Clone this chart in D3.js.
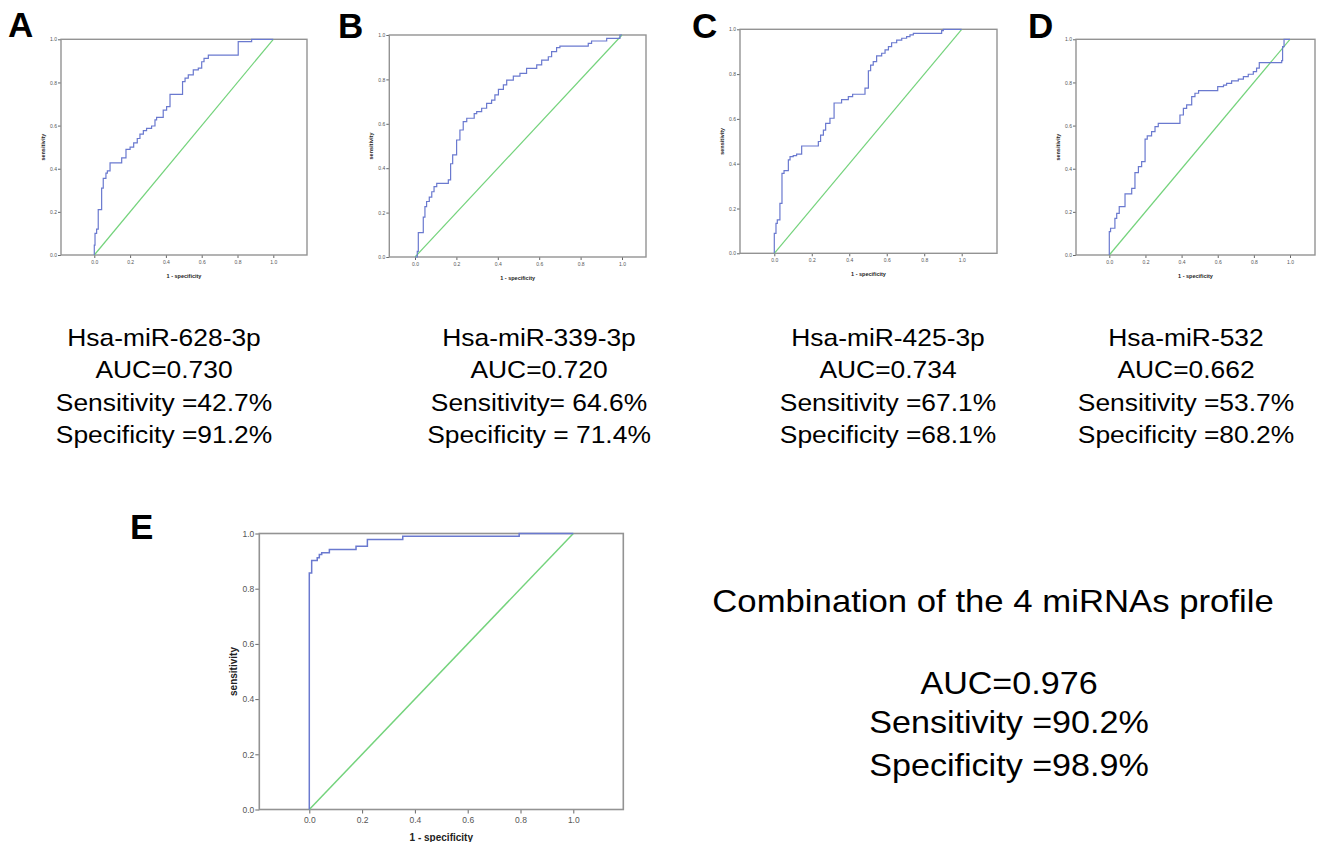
<!DOCTYPE html>
<html>
<head>
<meta charset="utf-8">
<script src="https://cdn.jsdelivr.net/npm/d3@7"></script>
<style>
  body { margin: 0; background: #ffffff; }
  svg { display: block; }
</style>
</head>
<body>
<svg id="fig" width="1325" height="842"></svg>
<script>
// ROC curves: false positive rate (1 - specificity) and true positive rate (sensitivity)
const fprA = [0, 0, 0.004, 0.013, 0.022, 0.041, 0.05, 0.065, 0.073, 0.088, 0.153, 0.177, 0.2, 0.22, 0.24, 0.255, 0.274, 0.292, 0.32, 0.339, 0.348, 0.385, 0.404, 0.423, 0.493, 0.507, 0.525, 0.553, 0.581, 0.6, 0.613, 0.637, 0.804, 0.879, 1.0];
const tprA = [0, 0.046, 0.1, 0.12, 0.21, 0.31, 0.355, 0.38, 0.39, 0.427, 0.45, 0.49, 0.5, 0.52, 0.54, 0.56, 0.577, 0.587, 0.598, 0.626, 0.638, 0.672, 0.688, 0.745, 0.804, 0.82, 0.835, 0.858, 0.866, 0.896, 0.912, 0.927, 0.989, 1.0, 1.0];

const fprB = [0, 0.011, 0.016, 0.04, 0.048, 0.056, 0.069, 0.081, 0.092, 0.105, 0.161, 0.172, 0.182, 0.201, 0.217, 0.233, 0.25, 0.286, 0.298, 0.322, 0.346, 0.37, 0.386, 0.403, 0.427, 0.443, 0.475, 0.507, 0.539, 0.588, 0.612, 0.644, 0.66, 0.684, 0.7, 0.837, 0.853, 0.926, 0.99, 1.0];
const tprB = [0, 0.025, 0.11, 0.18, 0.227, 0.25, 0.27, 0.294, 0.317, 0.332, 0.347, 0.42, 0.46, 0.527, 0.572, 0.61, 0.625, 0.646, 0.655, 0.67, 0.692, 0.707, 0.73, 0.755, 0.775, 0.797, 0.815, 0.827, 0.85, 0.865, 0.887, 0.902, 0.925, 0.943, 0.95, 0.962, 0.973, 0.985, 1.0, 1.0];

const fprC = [0, 0, 0.009, 0.016, 0.03, 0.041, 0.052, 0.075, 0.084, 0.101, 0.119, 0.146, 0.235, 0.247, 0.262, 0.274, 0.297, 0.319, 0.359, 0.395, 0.418, 0.484, 0.502, 0.514, 0.528, 0.546, 0.573, 0.591, 0.609, 0.626, 0.653, 0.68, 0.706, 0.724, 0.742, 0.893, 0.902, 1.0];
const tprC = [0, 0.089, 0.134, 0.149, 0.223, 0.357, 0.369, 0.417, 0.432, 0.436, 0.443, 0.479, 0.499, 0.528, 0.55, 0.58, 0.603, 0.671, 0.686, 0.699, 0.71, 0.737, 0.815, 0.84, 0.856, 0.881, 0.893, 0.908, 0.923, 0.94, 0.952, 0.96, 0.967, 0.975, 0.982, 0.994, 1.0, 1.0];

const fprD = [0, 0, 0.007, 0.031, 0.041, 0.055, 0.087, 0.124, 0.142, 0.161, 0.179, 0.198, 0.21, 0.234, 0.253, 0.271, 0.391, 0.41, 0.428, 0.456, 0.474, 0.494, 0.6, 0.632, 0.649, 0.677, 0.714, 0.742, 0.769, 0.797, 0.815, 0.83, 0.954, 0.959, 0.967, 1.0];
const tprD = [0, 0.108, 0.124, 0.17, 0.193, 0.224, 0.283, 0.309, 0.382, 0.41, 0.433, 0.537, 0.552, 0.572, 0.595, 0.61, 0.649, 0.68, 0.696, 0.734, 0.75, 0.762, 0.781, 0.788, 0.796, 0.807, 0.815, 0.827, 0.838, 0.85, 0.866, 0.892, 0.901, 0.966, 1.0, 1.0];

const fprE = [0, 0, 0.009, 0.03, 0.038, 0.047, 0.076, 0.177, 0.22, 0.354, 0.795, 1.0];
const tprE = [0, 0.857, 0.902, 0.912, 0.924, 0.93, 0.942, 0.954, 0.978, 0.99, 1.0, 1.0];

// Reference (chance) line
const chanceLine = [0, 1];

// Labels
const panelLetters = ["A", "B", "C", "D", "E"];
const markerNames = ["Hsa-miR-628-3p", "Hsa-miR-339-3p", "Hsa-miR-425-3p", "Hsa-miR-532"];
const aucLabels = ["AUC=0.730", "AUC=0.720", "AUC=0.734", "AUC=0.662", "AUC=0.976"];
const sensitivityLabels = ["Sensitivity =42.7%", "Sensitivity= 64.6%", "Sensitivity =67.1%", "Sensitivity =53.7%", "Sensitivity =90.2%"];
const specificityLabels = ["Specificity =91.2%", "Specificity = 71.4%", "Specificity =68.1%", "Specificity =80.2%", "Specificity =98.9%"];
const combinedTitle = "Combination of the 4 miRNAs profile";
const tickValues = [0, 0.2, 0.4, 0.6, 0.8, 1.0];
const xAxisTitle = "1 - specificity";
const yAxisTitle = "sensitivity";

// Panel geometry: frame box and the pixel span of x = 0..1
const panels = [
  { fpr: fprA, tpr: tprA, frame: [61, 39.3, 307, 255], xSpan: [94.3, 273.3], letter: [8, 37], big: false },
  { fpr: fprB, tpr: tprB, frame: [389.3, 35, 646, 257], xSpan: [415, 622], letter: [338, 38], big: false },
  { fpr: fprC, tpr: tprC, frame: [740, 29.3, 997, 253.3], xSpan: [774.3, 961.7], letter: [692, 38], big: false },
  { fpr: fprD, tpr: tprD, frame: [1076, 39.3, 1315, 255], xSpan: [1109.3, 1290], letter: [1028, 38], big: false },
  { fpr: fprE, tpr: tprE, frame: [259.3, 533.5, 623.3, 809.5], xSpan: [309.3, 573.3], letter: [130, 539], big: true }
];

const svg = d3.select("#fig");
const FONT = "'Liberation Sans', Arial, sans-serif";
const ROC_COLOR = "#6a79cf";
const CHANCE_COLOR = "#74d37c";
const FRAME_COLOR = "#939393";

panels.forEach((p, i) => {
  const [L, T, R, B] = p.frame;
  const x = d3.scaleLinear().domain([0, 1]).range(p.xSpan);
  const y = d3.scaleLinear().domain([0, 1]).range([B, T]);
  const g = svg.append("g");

  const tickFont = p.big ? 8.5 : 5;
  const titleFont = p.big ? 10 : 5.5;
  const tickLen = p.big ? 4 : 3;

  // y axis
  const yAxis = g.append("g")
    .attr("transform", `translate(${L},0)`)
    .call(d3.axisLeft(y).tickValues(tickValues).tickFormat(d3.format(".1f")).tickSize(tickLen).tickPadding(1));
  // x axis
  const xAxis = g.append("g")
    .attr("transform", `translate(0,${B})`)
    .call(d3.axisBottom(x).tickValues(tickValues).tickFormat(d3.format(".1f")).tickSize(tickLen).tickPadding(p.big ? 3 : 2));
  [yAxis, xAxis].forEach(ax => {
    ax.select(".domain").remove();
    ax.selectAll(".tick line").attr("stroke", "#666").attr("stroke-width", 1);
    ax.selectAll(".tick text")
      .attr("fill", "#555")
      .style("font-family", FONT)
      .style("font-size", tickFont + "px");
  });

  // frame
  g.append("rect")
    .attr("x", L).attr("y", T)
    .attr("width", R - L).attr("height", B - T)
    .attr("fill", "none")
    .attr("stroke", FRAME_COLOR)
    .attr("stroke-width", p.big ? 1.6 : 1.4);

  // chance diagonal
  g.append("path")
    .datum(chanceLine)
    .attr("d", d3.line().x(d => x(d)).y(d => y(d)))
    .attr("fill", "none")
    .attr("stroke", CHANCE_COLOR)
    .attr("stroke-width", p.big ? 1.5 : 1.2);

  // ROC step curve
  const pts = p.fpr.map((f, k) => [f, p.tpr[k]]);
  g.append("path")
    .datum(pts)
    .attr("d", d3.line().x(d => x(d[0])).y(d => y(d[1])).curve(d3.curveStepAfter))
    .attr("fill", "none")
    .attr("stroke", ROC_COLOR)
    .attr("stroke-width", p.big ? 1.5 : 1.2);

  // axis titles
  g.append("text")
    .attr("x", (L + R) / 2)
    .attr("y", B + (p.big ? 31 : 23))
    .attr("text-anchor", "middle")
    .style("font-family", FONT)
    .style("font-weight", "bold")
    .style("font-size", titleFont + "px")
    .attr("fill", "#222")
    .text(xAxisTitle);
  const yTitleX = L - (p.big ? 22 : 16);
  g.append("text")
    .attr("transform", `translate(${yTitleX},${(T + B) / 2}) rotate(-90)`)
    .attr("text-anchor", "middle")
    .style("font-family", FONT)
    .style("font-weight", "bold")
    .style("font-size", titleFont + "px")
    .attr("fill", "#222")
    .text(yAxisTitle);

  // panel letter
  svg.append("text")
    .attr("x", p.letter[0]).attr("y", p.letter[1])
    .style("font-family", FONT)
    .style("font-weight", "bold")
    .style("font-size", "35px")
    .attr("fill", "#000")
    .text(panelLetters[i]);
});

// text blocks under the four single-marker panels
const blockCenters = [164, 539, 888, 1186];
const blockBaselines = [346, 378, 411, 443];
function stretchedText(cx, cy, size, sx, str) {
  svg.append("text")
    .attr("transform", `translate(${cx},${cy}) scale(${sx},1)`)
    .attr("text-anchor", "middle")
    .style("font-family", FONT)
    .style("font-size", size + "px")
    .attr("fill", "#000")
    .text(str);
}
markerNames.forEach((name, i) => {
  const lines = [name, aucLabels[i], sensitivityLabels[i], specificityLabels[i]];
  lines.forEach((s, k) => stretchedText(blockCenters[i], blockBaselines[k], 24, 1.1, s));
});

// combined profile summary
stretchedText(993, 612, 31, 1.12, combinedTitle);
const combinedBaselines = [694, 733, 776];
[aucLabels[4], sensitivityLabels[4], specificityLabels[4]].forEach((s, k) =>
  stretchedText(1009, combinedBaselines[k], 31, 1.1, s));
</script>
</body>
</html>
